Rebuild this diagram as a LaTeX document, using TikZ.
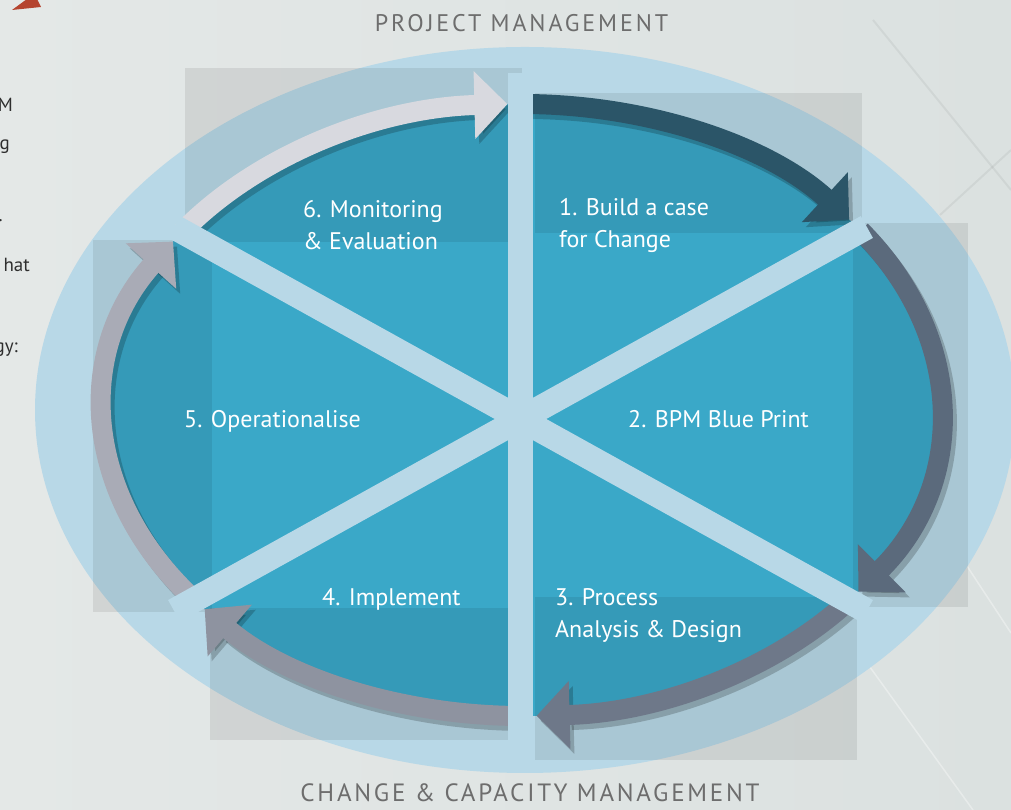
\documentclass[tikz,border=0pt]{standalone}
\usepackage{fontspec}
\setmainfont{PT Sans}
\usetikzlibrary{arrows.meta}

\definecolor{paper}{HTML}{DBE1E0}
\definecolor{paperlight}{HTML}{E4E8E7}
\definecolor{ringblue}{HTML}{B8D8E7}
\definecolor{cycleteal}{HTML}{3AA8C8}
\definecolor{stepone}{HTML}{2B5568}
\definecolor{steptwo}{HTML}{5B6A7C}
\definecolor{stepthree}{HTML}{6E7889}
\definecolor{stepfour}{HTML}{8E93A0}
\definecolor{stepfive}{HTML}{A9ABB6}
\definecolor{stepsix}{HTML}{D8D9DF}
\definecolor{captiongrey}{HTML}{6D6D6D}
\definecolor{markred}{HTML}{B5442F}

\begin{document}
\begin{tikzpicture}[x=1pt, y=1pt,
    ring/.style={x radius=418, y radius=306},
    cyclearrow/.style={line width=20pt, -{Triangle[length=33pt, width=66pt]}},
    arrowshade/.style={line width=20pt, draw=black, opacity=0.2, -{Triangle[length=33pt, width=66pt]}},
    spoke/.style={draw=ringblue, line width=25pt},
    panel/.style={fill=black, fill opacity=0.08},
    steplabel/.style={text=white, font=\fontsize{24}{32}\selectfont, align=left, anchor=base west, inner sep=0pt},
    caption/.style={text=captiongrey, font=\fontsize{24}{28}\selectfont\addfontfeature{LetterSpace=12}, anchor=base, inner sep=0pt},
    pagetext/.style={text=black!82, font=\fontsize{19}{22}\selectfont, anchor=base east, inner sep=0pt}]
    \clip (0,0) rectangle (1011,810);
    \shade[left color=paperlight, right color=paper] (0,0) rectangle (1011,810);

    % creases in the paper on the right
    \draw[black, opacity=0.05, line width=2pt] (873,790) -- (1011,620);
    \draw[black, opacity=0.05, line width=2pt] (940,595) -- (1011,660);
    \draw[white, opacity=0.35, line width=1.5pt] (963,250) -- (1011,177);
    \draw[white, opacity=0.35, line width=1.5pt] (867,147) -- (973,0);

    % bits of the page text next to the diagram
    \fill[markred] (12,800) -- (41,803) -- (37,811) -- (27,811) -- cycle;
    \node[pagetext] (textM) at (13,698) {M};
    \node[pagetext] (textG) at (10,660) {g};
    \node[pagetext] (textDot) at (3,588) {.};
    \node[pagetext] (textHat) at (30,538) {hat};
    \node[pagetext] (textGy) at (18,457) {gy:};

    \coordinate (centre) at (522,400);
    \coordinate (hub) at (520.5,391);

    % outer halo and the cycle itself
    \fill[ringblue] (525,400) ellipse [x radius=490, y radius=363];
    \fill[cycleteal] (centre) ellipse [ring];

    % grey panels behind each step
    \fill[panel] (185,568) rectangle (522,742);
    \fill[panel] (535,577) rectangle (862,717);
    \fill[panel] (853,203) rectangle (968,587);
    \fill[panel] (535,50) rectangle (857,213);
    \fill[panel] (210,70) rectangle (508,202);
    \fill[panel] (93,198) rectangle (212,570);

    \begin{scope}[shift={(centre)}]
      % shadows, pushed down and right
      \begin{scope}[xshift=4pt, yshift=-5pt]
        \draw[arrowshade] (90:418 and 306) arc[ring, start angle=90, end angle=38.5];
        \draw[arrowshade] (35.9:418 and 306) arc[ring, start angle=35.9, end angle=-36.4];
        \draw[arrowshade] (-38.6:418 and 306) arc[ring, start angle=-38.6, end angle=-88];
        \draw[arrowshade] (-90:418 and 306) arc[ring, start angle=-90, end angle=-139.4];
        \draw[arrowshade] (218.3:418 and 306) arc[ring, start angle=218.3, end angle=146.6];
        \draw[arrowshade] (144.3:418 and 306) arc[ring, start angle=144.3, end angle=92];
      \end{scope}
      % the six steps, clockwise from the top
      \draw[cyclearrow, stepone] (90:418 and 306) arc[ring, start angle=90, end angle=38.5];
      \draw[cyclearrow, steptwo] (35.9:418 and 306) arc[ring, start angle=35.9, end angle=-36.4];
      \draw[cyclearrow, stepthree] (-38.6:418 and 306) arc[ring, start angle=-38.6, end angle=-88];
      \draw[cyclearrow, stepfour] (-90:418 and 306) arc[ring, start angle=-90, end angle=-139.4];
      \draw[cyclearrow, stepfive] (218.3:418 and 306) arc[ring, start angle=218.3, end angle=146.6];
      \draw[cyclearrow, stepsix] (144.3:418 and 306) arc[ring, start angle=144.3, end angle=92];
    \end{scope}

    % spokes between the steps
    \begin{scope}[shift={(hub)}]
      \draw[spoke] (0,-353) -- (0,346);
      \draw[spoke] (209:396) -- (29:396);
      \draw[spoke] (331:396) -- (151:396);
    \end{scope}

    % step names
    \node[steplabel] (monitor) at (303,560) {6. Monitoring\\\& Evaluation};
    \node[steplabel] (buildcase) at (559,562) {1. Build a case\\for Change};
    \node[steplabel] (blueprint) at (628,382) {2. BPM Blue Print};
    \node[steplabel] (process) at (555,172) {3. Process\\Analysis \& Design};
    \node[steplabel] (implement) at (322,204) {4. Implement};
    \node[steplabel] (operate) at (184,382) {5. Operationalise};

    \node[caption] (projectmgmt) at (521.5,778) {PROJECT MANAGEMENT};
    \node[caption, font=\fontsize{25}{30}\selectfont\addfontfeature{LetterSpace=11}] (changemgmt) at (530,8) {CHANGE \& CAPACITY MANAGEMENT};
\end{tikzpicture}
\end{document}
